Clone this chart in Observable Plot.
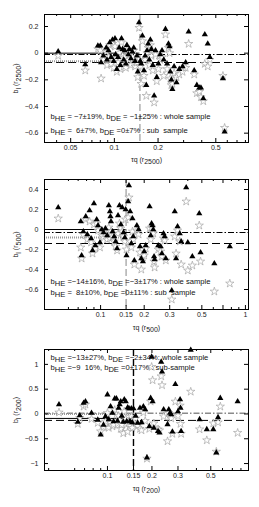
<!DOCTYPE html>
<html><head><meta charset="utf-8">
<script src="https://cdn.jsdelivr.net/npm/d3@7"></script>
<script src="https://cdn.jsdelivr.net/npm/@observablehq/plot@0.6"></script>
<style>
body{margin:0;background:#fff;width:259px;overflow:hidden}
#c svg{display:block}
</style></head><body><div id="c"></div>
<script>
// ---------- Panel 1 : r2500 ----------
const p1Tau  = [0.041,0.063,0.077,0.080,0.081,0.084,0.088,0.089,0.091,0.093,0.095,0.097,0.099,0.101,0.102,0.104,0.106,0.108,0.110,0.112,0.114,0.116,0.118,0.120,0.122,0.125,0.127,0.130,0.133,0.136,0.139,0.143,0.145,0.148,0.151,0.153,0.156,0.160,0.163,0.166,0.168,0.171,0.174,0.177,0.180,0.184,0.188,0.192,0.196,0.201,0.207,0.213,0.219,0.225,0.231,0.236,0.240,0.243,0.247,0.251,0.258,0.268,0.280,0.295,0.310,0.325,0.355,0.370,0.385,0.395,0.410,0.420,0.440,0.455,0.560,0.575];
const p1Tri  = [0.012,-0.085,0.055,0.055,-0.07,-0.02,0.04,-0.05,0.02,0.08,-0.03,0.10,-0.06,0.11,-0.01,-0.12,-0.03,0.04,-0.09,0.11,0.03,-0.05,0.02,-0.08,0.06,-0.01,0.03,-0.04,0.01,0.04,-0.06,-0.02,-0.14,0.23,-0.06,-0.08,0.13,-0.13,-0.02,-0.24,0.02,0.07,-0.05,0.10,0.03,-0.09,-0.32,0.02,-0.18,-0.08,-0.01,0.02,-0.05,0.18,-0.08,0.07,0.05,-0.14,-0.20,-0.27,-0.10,-0.22,-0.12,-0.10,-0.07,0.16,-0.13,-0.24,-0.26,-0.26,-0.34,0.14,0.07,-0.03,-0.19,-0.59];
const p1Star = [-0.02,-0.13,0.03,0.02,-0.19,-0.05,0.01,-0.09,-0.03,0.06,-0.08,0.07,-0.11,0.05,-0.04,-0.14,-0.07,0.00,-0.12,0.08,-0.02,-0.10,-0.03,-0.11,0.02,-0.05,-0.01,-0.09,-0.03,0.02,-0.10,-0.07,-0.18,0.19,-0.10,-0.23,0.09,-0.17,-0.05,-0.32,0.00,0.04,-0.09,0.06,-0.02,-0.13,-0.37,-0.01,-0.21,-0.12,-0.05,-0.03,-0.17,0.14,-0.12,0.04,0.00,-0.19,-0.24,-0.23,-0.15,-0.18,-0.16,-0.14,-0.11,0.07,-0.16,-0.30,-0.29,-0.33,-0.36,-0.08,-0.10,-0.05,-0.17,-0.56];
const p1XTicks = [0.05,0.1,0.2,0.5];
const p1YTicks = [0.2,0,-0.2,-0.4,-0.6];
const p1Lines = {wholeHE:-0.07, wholeDE:-0.01, subHE:-0.06, subDE:0, cut:0.15};
const p1Notes = ["b_{HE} = −7±19%, b_{DE} = −1±25% : whole sample","b_{HE} =  6±7%, b_{DE} =0±7% : sub  sample"];
const p1XLabel = "τq (r_{2500})";
const p1YLabel = "b_{l} (r_{2500})";

// ---------- Panel 2 : r500 ----------
const p2Tau  = [0.051,0.073,0.074,0.076,0.079,0.081,0.084,0.086,0.088,0.090,0.092,0.094,0.096,0.099,0.102,0.105,0.108,0.111,0.114,0.116,0.117,0.118,0.121,0.124,0.127,0.130,0.132,0.135,0.138,0.141,0.144,0.147,0.149,0.151,0.155,0.157,0.160,0.163,0.166,0.168,0.171,0.178,0.183,0.187,0.191,0.196,0.200,0.205,0.218,0.222,0.225,0.228,0.231,0.234,0.236,0.250,0.260,0.265,0.272,0.277,0.282,0.310,0.325,0.332,0.340,0.352,0.360,0.390,0.400,0.430,0.480,0.490,0.610,0.780];
const p2Tri  = [0.22,0.08,-0.26,-0.02,0.13,-0.05,0.19,-0.09,-0.21,0.26,-0.16,0.10,0.04,-0.13,0.00,-0.03,0.01,-0.06,0.24,0.18,0.13,0.08,-0.02,-0.07,-0.12,-0.19,0.14,0.24,0.05,0.22,-0.03,-0.08,0.20,-0.26,0.28,0.44,0.18,-0.14,0.11,-0.07,-0.31,0.04,0.00,-0.17,-0.29,-0.32,-0.22,-0.16,0.23,-0.06,0.06,0.04,0.00,-0.27,-0.30,-0.16,-0.17,-0.24,-0.04,-0.07,-0.29,-0.61,0.18,-0.29,0.03,-0.04,-0.12,0.42,-0.13,-0.27,0.16,-0.23,-0.34,-0.17];
const p2Star = [0.11,-0.18,-0.29,-0.05,0.10,-0.10,0.08,-0.13,-0.24,0.05,-0.19,0.06,-0.01,-0.18,-0.06,-0.08,-0.04,-0.10,0.02,-0.09,-0.05,-0.02,-0.07,-0.12,-0.17,-0.21,-0.04,0.06,0.01,-0.02,-0.07,-0.12,0.10,-0.20,0.12,0.32,-0.12,-0.18,-0.02,-0.10,-0.35,-0.01,-0.05,-0.23,-0.40,-0.28,-0.26,-0.19,0.01,-0.10,0.02,-0.03,-0.04,-0.32,-0.38,-0.20,-0.22,-0.27,-0.09,-0.11,-0.31,-0.70,-0.07,-0.24,-0.01,-0.12,-0.35,0.28,-0.41,-0.36,0.04,-0.32,-0.62,-0.54];
const p2XTicks = [0.1,0.15,0.2,0.3,0.5,0.7,1];
const p2YTicks = [0.4,0.2,0,-0.2,-0.4,-0.6];
const p2Lines = {wholeHE:-0.14, wholeDE:-0.03, subHE:-0.08, subDE:0, cut:0.15};
const p2Notes = ["b_{HE} =−14±16%, b_{DE} =−3±17% : whole sample","b_{HE} =  8±10%, b_{DE} =0±11% : sub  sample"];
const p2XLabel = "τq (r_{500})";
const p2YLabel = "b_{l} (r_{500})";

// ---------- Panel 3 : r200 ----------
const p3Tau  = [0.047,0.063,0.065,0.069,0.071,0.078,0.086,0.090,0.094,0.097,0.100,0.102,0.105,0.108,0.110,0.112,0.115,0.117,0.119,0.121,0.123,0.125,0.128,0.130,0.133,0.135,0.137,0.140,0.142,0.145,0.147,0.150,0.155,0.160,0.166,0.170,0.175,0.180,0.185,0.192,0.196,0.199,0.202,0.206,0.220,0.225,0.231,0.234,0.240,0.255,0.260,0.265,0.270,0.275,0.288,0.300,0.310,0.312,0.315,0.366,0.420,0.470,0.520,0.545,0.560,0.580,0.760];
const p3Tri  = [0.19,-0.16,-0.03,0.22,0.25,0.02,-0.12,-0.42,-0.22,-0.05,0.39,-0.11,0.15,0.02,-0.15,0.31,0.31,-0.14,0.12,0.19,0.25,-0.04,-0.16,0.29,0.25,-0.15,0.13,0.11,-0.15,0.11,-0.17,0.11,-0.04,-0.18,0.12,-0.17,0.15,0.09,-0.88,-0.25,0.32,1.15,0.25,-0.28,-0.35,-0.38,1.05,0.85,0.09,-0.21,0.09,0.02,-0.01,-0.36,0.60,0.05,0.29,0.12,-0.35,1.29,-0.11,-0.31,-0.31,-0.78,-0.07,0.32,0.25];
const p3Star = [0.03,-0.20,-0.08,0.15,0.19,-0.10,-0.18,-0.35,-0.26,-0.15,0.02,-0.28,-0.18,-0.25,-0.22,0.08,-0.02,-0.20,-0.04,-0.13,-0.30,-0.22,-0.39,0.05,-0.10,-0.21,-0.36,-0.18,-0.25,-0.05,-0.28,-0.12,-0.09,-0.24,-0.30,-0.33,0.03,-0.14,-0.90,-0.30,0.25,0.95,0.68,-0.19,-0.31,-0.33,0.76,0.58,-0.05,-0.55,0.02,-0.06,-0.09,-0.40,0.25,-0.04,0.17,-0.20,-0.40,0.45,-0.31,-0.53,-0.19,-0.76,-0.17,0.15,-0.38];
const p3XTicks = [0.1,0.15,0.2,0.3,0.5];
const p3YTicks = [1,0.5,0,-0.5,-1];
const p3Lines = {wholeHE:-0.13, wholeDE:0.015, subHE:-0.09, subDE:0, cut:0.15};
const p3Notes = ["b_{HE} =−13±27%, b_{DE} =−2±34%: whole sample","b_{HE} =−9  16%, b_{DE} =0±17% : sub-sample"];
const p3XLabel = "τq (r_{200})";
const p3YLabel = "b_{l} (r_{200})";

const minorTicks = [0.03,0.04,0.06,0.07,0.08,0.09,0.3,0.4,0.6,0.7,0.8,0.9];

const W = 259, ML = 44, MR = 11;

function subscripts(svg){
  d3.select(svg).selectAll("text").each(function(){
    const node = this;
    const targets = node.querySelector("tspan") ? Array.from(node.querySelectorAll("tspan")) : [node];
    for (const el of targets){
      const t = el.textContent;
      if (!t.includes("_{")) continue;
      const sel = d3.select(el); sel.text(null);
      const parts = t.split(/(_\{[^}]*\})/);
      let shifted = false;
      for (const p of parts){
        if (!p) continue;
        if (p.startsWith("_{")){
          sel.append("tspan").attr("dy", shifted ? 0 : "0.3em").text(p.slice(2,-1));
          shifted = true;
        } else {
          sel.append("tspan").attr("dy", shifted ? "-0.3em" : 0).text(p);
          shifted = false;
        }
      }
    }
  });
}

function panel(o){
  const rows = o.tau.map((t,i)=>({t, tri:o.tri[i], star:o.star[i]}));
  const x0 = o.xDomain[0];
  const fH = o.height - o.mt - o.mb;
  const fW = W - ML - MR;
  const minor = minorTicks.filter(v => v > o.xDomain[0] && v < o.xDomain[1] && !o.xTicks.includes(v));
  const L = o.lines;
  const fmt = d => d === 0 ? "0" : String(d).replace("-", "−");
  const svg = Plot.plot({
    width: W, height: o.height,
    marginLeft: ML, marginRight: MR, marginTop: o.mt, marginBottom: o.mb,
    style: {fontFamily: "'Liberation Sans', Arial, sans-serif", fontSize: "7px", color: "#222", background: "white"},
    x: {type: "log", domain: o.xDomain},
    y: {domain: o.yDomain},
    marks: [
      Plot.ruleX([L.cut], {stroke: o.cutColor, strokeWidth: 1.4, strokeDasharray: "7,3"}),
      Plot.ruleY([L.wholeDE], {stroke: o.deColor, strokeWidth: o.deWidth, strokeDasharray: "6,2,1.5,2"}),
      Plot.ruleY([L.wholeHE], {stroke: "#000", strokeWidth: 1, strokeDasharray: "8,4"}),
      Plot.ruleY([L.subHE], {x1: x0, x2: L.cut, stroke: o.subHEColor, strokeWidth: o.subHEWidth, strokeDasharray: o.subHEDash}),
      Plot.ruleY([L.subDE], {x1: x0, x2: L.cut, stroke: o.subDEColor, strokeWidth: o.subDEWidth, strokeDasharray: o.subDEDash}),
      Plot.dot(rows, {x: "t", y: "star", symbol: "star", r: 2.6, fill: "white", stroke: "#999", strokeWidth: 0.6}),
      Plot.dot(rows, {x: "t", y: "tri", symbol: "triangle", r: 2.3, fill: "black"}),
      Plot.frame({stroke: "black", strokeWidth: 1}),
      Plot.tickX(o.xTicks, {x: d => d, insetTop: fH - 4, stroke: "black"}),
      Plot.tickX(o.xTicks, {x: d => d, insetBottom: fH - 4, stroke: "black"}),
      Plot.tickX(minor, {x: d => d, insetTop: fH - 2, stroke: "black"}),
      Plot.tickX(minor, {x: d => d, insetBottom: fH - 2, stroke: "black"}),
      Plot.tickY(o.yTicks, {y: d => d, insetRight: fW - 4, stroke: "black"}),
      Plot.tickY(o.yTicks, {y: d => d, insetLeft: fW - 4, stroke: "black"}),
      Plot.axisX({ticks: o.xTicks, tickSize: 0, tickPadding: 3, tickFormat: d => String(d),
        label: o.xLabel, labelAnchor: "center", labelOffset: o.xLabelOffset, labelArrow: "none"}),
      Plot.axisY({ticks: o.yTicks, tickSize: 0, tickPadding: 6, tickFormat: fmt,
        label: o.yLabel, labelAnchor: "center", labelOffset: 31, labelArrow: "none"}),
      Plot.text([o.notes[0]], {text: d => d, frameAnchor: o.noteAnchor, dx: 6, dy: o.noteDy[0], textAnchor: "start", fontSize: 7.6, fill: "#111"}),
      Plot.text([o.notes[1]], {text: d => d, frameAnchor: o.noteAnchor, dx: 6, dy: o.noteDy[1], textAnchor: "start", fontSize: 7.6, fill: "#111"})
    ]
  });
  subscripts(svg);
  document.getElementById("c").appendChild(svg);
}

const common = {subDEColor: "#000", subDEWidth: 1, subDEDash: null, subHEColor: "#9a9a9a", subHEWidth: 2, subHEDash: "1,1"};

panel({...common, tau: p1Tau, tri: p1Tri, star: p1Star, xTicks: p1XTicks, yTicks: p1YTicks, lines: p1Lines,
  notes: p1Notes, xLabel: p1XLabel, yLabel: p1YLabel,
  xDomain: [0.033, 0.84], yDomain: [-0.67, 0.29], height: 168, mt: 14, mb: 26, xLabelOffset: 19,
  cutColor: "#aaa", deColor: "#000", deWidth: 1, noteAnchor: "bottom-left", noteDy: [-24, -10]});

panel({...common, tau: p2Tau, tri: p2Tri, star: p2Star, xTicks: p2XTicks, yTicks: p2YTicks, lines: p2Lines,
  notes: p2Notes, xLabel: p2XLabel, yLabel: p2YLabel,
  xDomain: [0.041, 1.05], yDomain: [-0.8, 0.5], height: 167, mt: 11, mb: 26, xLabelOffset: 20,
  cutColor: "#aaa", deColor: "#000", deWidth: 1, noteAnchor: "bottom-left", noteDy: [-26, -15]});

panel({...common, subHEColor: "#000", subHEWidth: 1, subHEDash: null, subDEColor: "#9a9a9a", subDEWidth: 2, subDEDash: "1,1",
  tau: p3Tau, tri: p3Tri, star: p3Star, xTicks: p3XTicks, yTicks: p3YTicks, lines: p3Lines,
  notes: p3Notes, xLabel: p3XLabel, yLabel: p3YLabel,
  xDomain: [0.0375, 0.9], yDomain: [-1.14, 1.3], height: 172, mt: 14, mb: 37, xLabelOffset: 20,
  cutColor: "#000", deColor: "#8a8a8a", deWidth: 1.6, noteAnchor: "top-left", noteDy: [5, 15]});
</script>
</body></html>
